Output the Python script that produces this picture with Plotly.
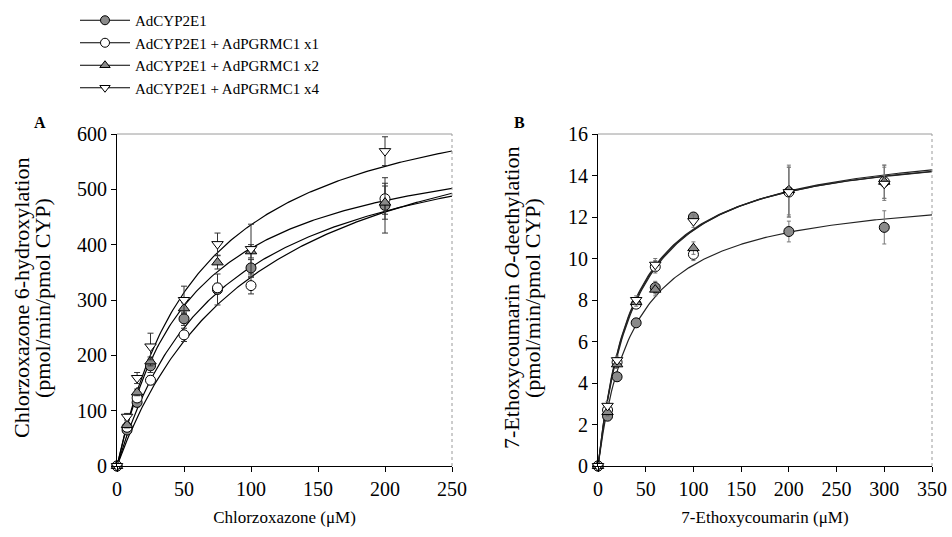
import numpy as np
import plotly.graph_objects as go

# ---------------- data ----------------
series_names = ["AdCYP2E1", "AdCYP2E1 + AdPGRMC1 x1", "AdCYP2E1 + AdPGRMC1 x2", "AdCYP2E1 + AdPGRMC1 x4"]

# Panel A: chlorzoxazone 6-hydroxylation
a_x = [0, 7.5, 15, 25, 50, 75, 100, 200]
a_cyp = [0, 65, 115, 181, 266, 319, 358, 471]
a_x1 = [0, 70, 123, 155, 237, 322, 326, 483]
a_x2 = [0, 74, 133, 189, 285, 368, 388, 476]
a_x4 = [0, 89, 159, 216, 300, 401, 392, 569]
a_cyp_err = [0, 5, 8, 12, 12, 28, 15, 50]
a_x1_err = [0, 5, 6, 8, 12, 8, 15, 28]
a_x2_err = [0, 5, 6, 8, 10, 12, 12, 30]
a_x4_err = [0, 6, 10, 24, 25, 20, 45, 26]
# Michaelis-Menten fit parameters (Vmax, Km) for the curves
a_vmax = [640, 700, 614, 715]
a_km = [78, 105, 56, 64]

# Panel B: 7-ethoxycoumarin O-deethylation
b_x = [0, 10, 20, 40, 60, 100, 200, 300]
b_cyp = [0, 2.4, 4.3, 6.9, 8.6, 12.0, 11.3, 11.5]
b_x1 = [0, 2.7, 5.0, 7.8, 9.6, 10.2, 13.2, 13.7]
b_x2 = [0, 2.6, 4.9, 7.9, 8.5, 10.5, 13.3, 13.7]
b_x4 = [0, 2.9, 5.1, 8.0, 9.7, 11.8, 13.2, 13.6]
b_cyp_err = [0, 0.2, 0.2, 0.2, 0.3, 0.2, 0.5, 0.8]
b_x1_err = [0, 0.2, 0.2, 0.2, 0.3, 0.3, 1.2, 0.8]
b_x2_err = [0, 0.2, 0.2, 0.2, 0.3, 0.3, 1.2, 0.8]
b_x4_err = [0, 0.2, 0.2, 0.2, 0.3, 0.3, 1.2, 0.8]
b_vmax = [13.44, 15.76, 15.9, 15.7]
b_km = [38.7, 38.4, 40.0, 37.5]

a_ticks = [0, 50, 100, 150, 200, 250]
a_yticks = [0, 100, 200, 300, 400, 500, 600]
b_ticks = [0, 50, 100, 150, 200, 250, 300, 350]
b_yticks = [0, 2, 4, 6, 8, 10, 12, 14, 16]

a_ytitle = ["Chlorzoxazone 6-hydroxylation", "(pmol/min/pmol CYP)"]
b_ytitle = ["7-Ethoxycoumarin <i>O</i>-deethylation", "(pmol/min/pmol CYP)"]

# ---------------- styling ----------------
FONT = "Liberation Serif, Times New Roman, serif"
symbols = ["circle", "circle", "triangle-up", "triangle-down"]
fills = ["#8a8a8a", "white", "#8a8a8a", "white"]
sizes = [10, 10, 10, 10]

W, H = 952, 537
L, R, T, B = 117, 20, 134, 71
PW, PH = W - L - R, H - T - B


def px(xp):
    return (xp - L) / PW


def py(yp):
    return (H - B - yp) / PH


fig = go.Figure()

a_sets = [(a_cyp, a_cyp_err), (a_x1, a_x1_err), (a_x2, a_x2_err), (a_x4, a_x4_err)]
b_sets = [(b_cyp, b_cyp_err), (b_x1, b_x1_err), (b_x2, b_x2_err), (b_x4, b_x4_err)]

# fitted curves
xa_curve = np.linspace(0, 250, 200)
xb_curve = np.linspace(0, 350, 200)
for i in range(4):
    fig.add_trace(go.Scatter(x=xa_curve, y=a_vmax[i] * xa_curve / (a_km[i] + xa_curve),
                             mode="lines", line=dict(color="black", width=1.2),
                             showlegend=False, hoverinfo="skip", xaxis="x", yaxis="y"))
    fig.add_trace(go.Scatter(x=xb_curve, y=b_vmax[i] * xb_curve / (b_km[i] + xb_curve),
                             mode="lines", line=dict(color="#222", width=1.2),
                             showlegend=False, hoverinfo="skip", xaxis="x2", yaxis="y2"))

# data points
for i in range(4):
    ya, ea = a_sets[i]
    fig.add_trace(go.Scatter(x=a_x, y=ya, mode="markers",
                             error_y=dict(type="data", array=ea, color="#333", thickness=1, width=3),
                             marker=dict(symbol=symbols[i], size=sizes[i], color=fills[i],
                                         line=dict(color="black", width=1)),
                             cliponaxis=False, showlegend=False, xaxis="x", yaxis="y"))
    yb, eb = b_sets[i]
    fig.add_trace(go.Scatter(x=b_x, y=yb, mode="markers",
                             error_y=dict(type="data", array=eb, color="#777", thickness=1, width=2),
                             marker=dict(symbol=symbols[i], size=sizes[i], color=fills[i],
                                         line=dict(color="black", width=1)),
                             cliponaxis=False, showlegend=False, xaxis="x2", yaxis="y2"))

# legend entries
for i in range(4):
    fig.add_trace(go.Scatter(x=[None], y=[None], mode="lines+markers", name=series_names[i],
                             line=dict(color="black", width=1),
                             marker=dict(symbol=symbols[i], size=9, color=fills[i],
                                         line=dict(color="black", width=1)),
                             xaxis="x", yaxis="y"))

axis_common = dict(showgrid=False, zeroline=False, showline=True, linecolor="black", linewidth=1,
                   ticks="outside", ticklen=5, tickcolor="black", automargin=False,
                   tickfont=dict(family=FONT, size=20, color="black"))

fig.update_layout(
    width=W, height=H,
    margin=dict(l=L, r=R, t=T, b=B, autoexpand=False),
    paper_bgcolor="white", plot_bgcolor="white",
    font=dict(family=FONT, color="black"),
    xaxis=dict(domain=[0, px(452)], range=[0, 250], tickvals=a_ticks,
               title=dict(text="Chlorzoxazone (μM)", font=dict(family=FONT, size=17), standoff=12),
               anchor="y", **axis_common),
    yaxis=dict(domain=[0, 1], range=[0, 600], tickvals=a_yticks, anchor="x", **axis_common),
    xaxis2=dict(domain=[px(598), 1], range=[0, 350], tickvals=b_ticks,
                title=dict(text="7-Ethoxycoumarin (μM)", font=dict(family=FONT, size=17), standoff=12),
                anchor="y2", **axis_common),
    yaxis2=dict(domain=[0, 1], range=[0, 16], tickvals=b_yticks, anchor="x2", **axis_common),
    legend=dict(xref="container", yref="container", x=75 / W, y=1 - 4 / H,
                xanchor="left", yanchor="top",
                font=dict(family=FONT, size=15, color="black"),
                bgcolor="rgba(0,0,0,0)", itemwidth=50, tracegroupgap=0),
    showlegend=True,
)

# y-axis titles (two rotated lines each)
for lines, xs in [(a_ytitle, [21, 42]), (b_ytitle, [511, 532])]:
    for txt, xp in zip(lines, xs):
        fig.add_annotation(text=txt, xref="paper", yref="paper", x=px(xp), y=py(298),
                           textangle=-90, showarrow=False, xanchor="center", yanchor="middle",
                           font=dict(family=FONT, size=22, color="black"))

# light frame on top/right
for xr, yr in [("x domain", "y domain"), ("x2 domain", "y2 domain")]:
    fig.add_shape(type="line", xref=xr, yref=yr, x0=0, x1=1, y0=1, y1=1,
                  line=dict(color="#9a9a9a", width=1))
    fig.add_shape(type="line", xref=xr, yref=yr, x0=1, x1=1, y0=0, y1=1,
                  line=dict(color="#9a9a9a", width=1, dash="dot"))

# panel letters
fig.add_annotation(text="<b>A</b>", xref="paper", yref="paper", x=px(40), y=py(122),
                   showarrow=False, font=dict(family=FONT, size=16), xanchor="center", yanchor="middle")
fig.add_annotation(text="<b>B</b>", xref="paper", yref="paper", x=px(519), y=py(122),
                   showarrow=False, font=dict(family=FONT, size=16), xanchor="center", yanchor="middle")

fig.write_html("out.html", config={"displayModeBar": False},
               post_script="document.body.style.margin='0';")
